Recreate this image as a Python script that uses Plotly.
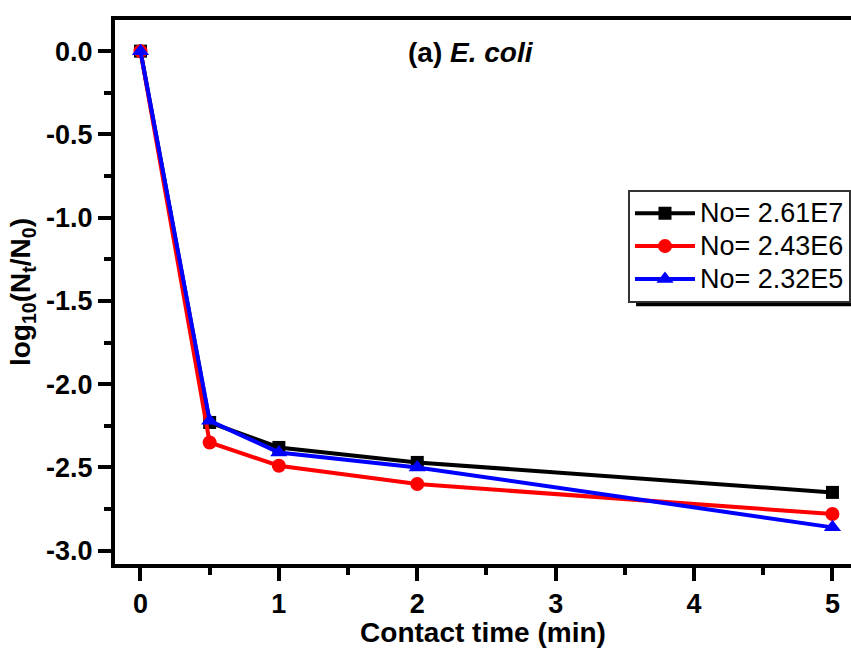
import plotly.graph_objects as go

time_min = [0, 0.5, 1, 2, 5]
series_names = ["No= 2.61E7", "No= 2.43E6", "No= 2.32E5"]
log_ratio_261e7 = [0.0, -2.23, -2.38, -2.47, -2.65]
log_ratio_243e6 = [0.0, -2.35, -2.49, -2.60, -2.78]
log_ratio_232e5 = [0.0, -2.22, -2.41, -2.50, -2.86]
x_ticks = [0, 1, 2, 3, 4, 5]
y_ticks = [0.0, -0.5, -1.0, -1.5, -2.0, -2.5, -3.0]

colors = ["#000000", "#ff0000", "#0000ff"]
symbols = ["square", "circle", "triangle-up"]
sizes = [13, 14, 15]
series = [log_ratio_261e7, log_ratio_243e6, log_ratio_232e5]

fig = go.Figure()
for name, vals, c, s, sz in zip(series_names, series, colors, symbols, sizes):
    fig.add_trace(go.Scatter(
        x=time_min, y=vals, name='<span style="font-size:27px">%s</span>' % name,
        mode="lines+markers",
        line=dict(color=c, width=4),
        marker=dict(symbol=s, size=sz, color=c),
    ))

font = "Liberation Sans, Arial, sans-serif"
fig.update_layout(
    width=851, height=648,
    margin=dict(l=114.5, r=0, t=19.5, b=83.5, autoexpand=False),
    plot_bgcolor="white", paper_bgcolor="white",
    font=dict(family=font, color="black"),
    showlegend=True,
    legend=dict(
        x=0.697, y=0.688, xanchor="left", yanchor="top",
        bgcolor="white", bordercolor="#333333", borderwidth=2,
        font=dict(size=23, family=font, color="black"),
        itemwidth=60, tracegroupgap=0,
    ),
    xaxis=dict(
        range=[-0.184, 5.134], tickvals=x_ticks, ticktext=[str(v) for v in x_ticks],
        showline=True, linecolor="black", linewidth=4, mirror=True,
        ticks="outside", ticklen=13, tickwidth=4, tickcolor="black",
        minor=dict(ticks="outside", ticklen=7, tickwidth=4, tickcolor="black", dtick=0.5),
        showgrid=False, zeroline=False,
        tickfont=dict(size=27, family=font, weight="bold"),
        title=dict(text="<b>Contact time (min)</b>", font=dict(size=28, family=font), standoff=0),
    ),
    yaxis=dict(
        range=[-3.080, 0.187], tickvals=y_ticks, ticktext=["%.1f" % v for v in y_ticks],
        showline=True, linecolor="black", linewidth=4, mirror=False,
        ticks="outside", ticklen=13, tickwidth=4, tickcolor="black",
        minor=dict(ticks="outside", ticklen=7, tickwidth=4, tickcolor="black", dtick=0.25),
        showgrid=False, zeroline=False,
        tickfont=dict(size=27, family=font, weight="bold"),
        title=dict(text="<b>log<sub>10</sub>(N<sub>t</sub>/N<sub>0</sub>)</b>", font=dict(size=28, family=font), standoff=8),
    ),
    annotations=[dict(
        text="<b>(a) <i>E. coli</i></b>", x=0.484, y=0.940, xref="paper", yref="paper",
        xanchor="center", yanchor="middle",
        showarrow=False, font=dict(size=28, family=font, color="black"),
    )],
    shapes=[dict(
        type="rect", xref="paper", yref="paper",
        x0=0.708, x1=1.05, y0=0.474, y1=0.6,
        fillcolor="black", line=dict(width=0), layer="above",
    )],
)

fig.write_html("out.html")
